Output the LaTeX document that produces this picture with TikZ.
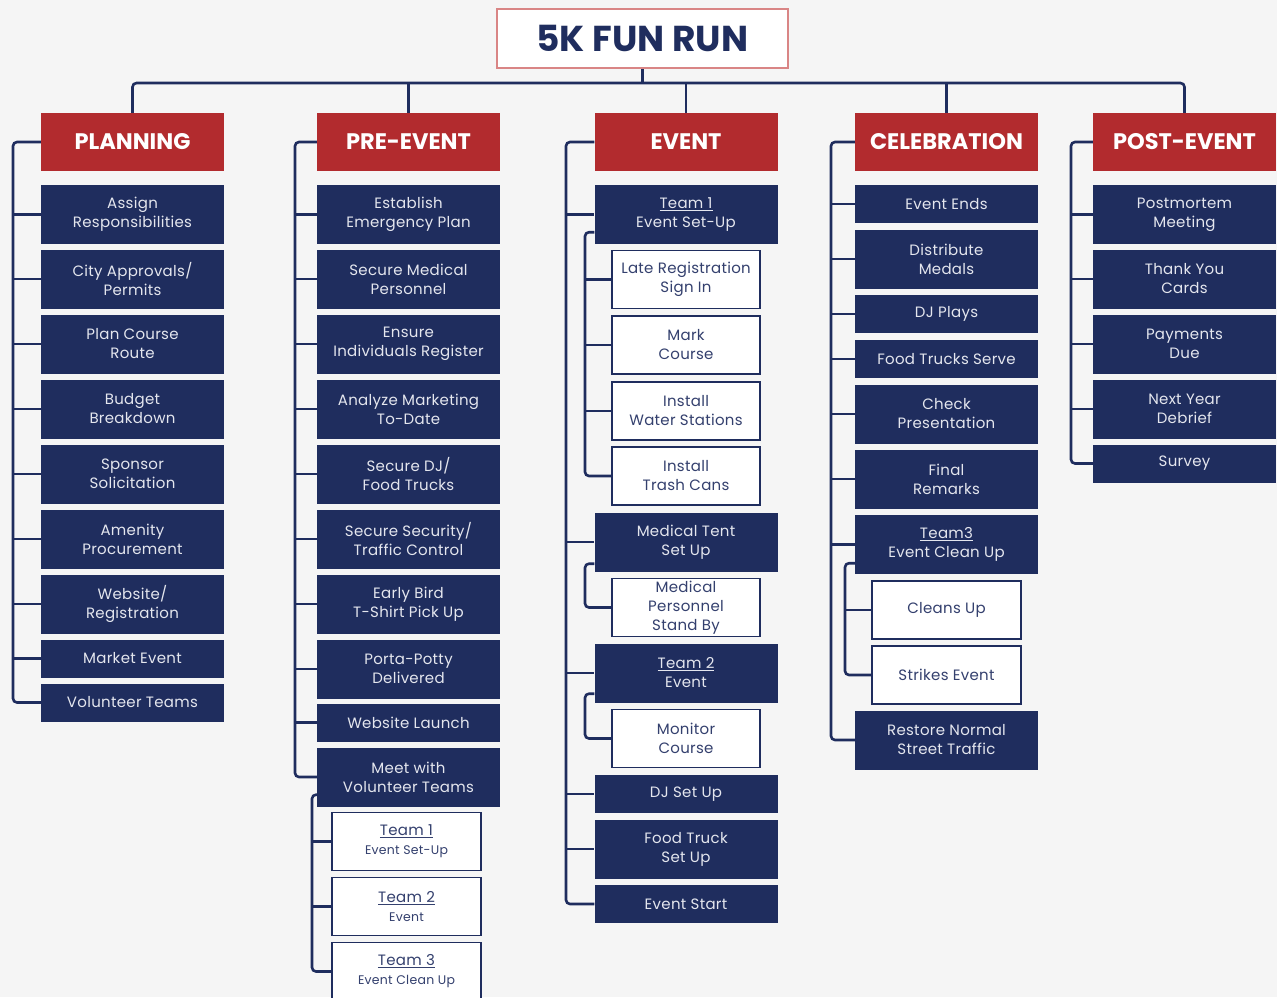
\documentclass[tikz,border=0pt]{standalone}
\usepackage{fontspec}
\setmainfont{Poppins}
\definecolor{navy}{HTML}{1F2D5E}
\definecolor{hred}{HTML}{B22B2E}
\definecolor{bg}{HTML}{F5F5F5}
\definecolor{tborder}{HTML}{D98585}
\definecolor{ltext}{HTML}{E4E6EE}
\definecolor{wtext}{HTML}{34406E}
\newcommand\bodyfont{\fontsize{15}{19}\selectfont\addfontfeatures{LetterSpace=2}}
\newcommand\subtxt{\fontsize{12.5}{15}\selectfont}
\begin{document}
\begin{tikzpicture}[x=1pt,y=-1pt,
  conn/.style={draw=navy,line width=2.6pt,rounded corners=4pt},
  hdr/.style={fill=hred,text=white,font=\bfseries\fontsize{22.5}{26}\selectfont,minimum width=183pt,minimum height=58pt,inner sep=0pt},
  dk/.style={fill=navy,text=ltext,font=\bodyfont,align=center,minimum width=183pt,inner sep=0pt},
  dktwo/.style={dk,minimum height=59pt},
  dkone/.style={dk,minimum height=38pt},
  wt/.style={fill=white,draw=navy,line width=1.4pt,text=wtext,font=\bodyfont,align=center,minimum width=148pt,minimum height=58pt,inner sep=0pt}
]
\fill[bg] (0,0) rectangle (1277,997);
\useasboundingbox (0,0) rectangle (1277,997);
\clip (0,0) rectangle (1277,997);

% title
\node[draw=tborder,line width=2pt,fill=white,minimum width=291pt,minimum height=59pt,inner sep=0pt,text=navy,font=\bfseries\fontsize{36}{42}\selectfont] (title) at (642.5,38.5) {5K FUN RUN};

% headers
\node[hdr] (hP)  at (132.5,142) {PLANNING};
\node[hdr] (hPE) at (408.5,142) {PRE-EVENT};
\node[hdr] (hE)  at (686,142)   {EVENT};
\node[hdr] (hC)  at (946.5,142) {CELEBRATION};
\node[hdr] (hPO) at (1184.5,142) {POST-EVENT};

% planning
\node[dktwo] (p1) at (132.5,214.5) {Assign\\Responsibilities};
\node[dktwo] (p2) at (132.5,279) {City Approvals/\\Permits};
\node[dktwo] (p3) at (132.5,344) {Plan Course\\Route};
\node[dktwo] (p4) at (132.5,409) {Budget\\Breakdown};
\node[dktwo] (p5) at (132.5,474) {Sponsor\\Solicitation};
\node[dktwo] (p6) at (132.5,539) {Amenity\\Procurement};
\node[dktwo] (p7) at (132.5,604) {Website/\\Registration};
\node[dkone] (p8) at (132.5,658.5) {Market Event};
\node[dkone] (p9) at (132.5,702.5) {Volunteer Teams};

% pre-event
\node[dktwo] (e1) at (408.5,214.5) {Establish\\Emergency Plan};
\node[dktwo] (e2) at (408.5,279) {Secure Medical\\Personnel};
\node[dktwo] (e3) at (408.5,344) {Ensure\\Individuals Register};
\node[dktwo] (e4) at (408.5,409) {Analyze Marketing\\To-Date};
\node[dktwo] (e5) at (408.5,474) {Secure DJ/\\Food Trucks};
\node[dktwo] (e6) at (408.5,539) {Secure Security/\\Traffic Control};
\node[dktwo] (e7) at (408.5,604) {Early Bird\\T-Shirt Pick Up};
\node[dktwo] (e8) at (408.5,669) {Porta-Potty\\Delivered};
\node[dkone] (e9) at (408.5,722.5) {Website Launch};
\node[dktwo] (e10) at (408.5,777) {Meet with\\Volunteer Teams};
\node[wt,minimum width=149pt] (t1) at (406.5,841.5) {\underline{Team 1}\\{\subtxt Event Set-Up}};
\node[wt,minimum width=149pt] (t2) at (406.5,906.5) {\underline{Team 2}\\{\subtxt Event}};
\node[wt,minimum width=149pt] (t3) at (406.5,971.5) {\underline{Team 3}\\{\subtxt Event Clean Up}};

% event
\node[dktwo] (v1) at (686,214.5) {\underline{Team 1}\\Event Set-Up};
\node[wt] (v1a) at (686,279.5) {Late Registration\\Sign In};
\node[wt] (v1b) at (686,345) {Mark\\Course};
\node[wt] (v1c) at (686,411) {Install\\Water Stations};
\node[wt] (v1d) at (686,476) {Install\\Trash Cans};
\node[dktwo] (v2) at (686,542) {Medical Tent\\Set Up};
\node[wt] (v2a) at (686,607.5) {Medical\\Personnel\\Stand By};
\node[dktwo] (v3) at (686,673) {\underline{Team 2}\\Event};
\node[wt] (v3a) at (686,738.5) {Monitor\\Course};
\node[dkone] (v4) at (686,794) {DJ Set Up};
\node[dktwo] (v5) at (686,849) {Food Truck\\Set Up};
\node[dkone] (v6) at (686,904) {Event Start};

% celebration
\node[dkone] (c1) at (946.5,204) {Event Ends};
\node[dktwo] (c2) at (946.5,259) {Distribute\\Medals};
\node[dkone] (c3) at (946.5,314) {DJ Plays};
\node[dkone] (c4) at (946.5,359) {Food Trucks Serve};
\node[dktwo] (c5) at (946.5,414) {Check\\Presentation};
\node[dktwo] (c6) at (946.5,479) {Final\\Remarks};
\node[dktwo] (c7) at (946.5,544.5) {\underline{Team3}\\Event Clean Up};
\node[wt,minimum width=149pt] (c7a) at (946.5,610) {Cleans Up};
\node[wt,minimum width=149pt] (c7b) at (946.5,675) {Strikes Event};
\node[dktwo] (c8) at (946.5,740) {Restore Normal\\Street Traffic};

% post-event
\node[dktwo] (o1) at (1184.5,214.5) {Postmortem\\Meeting};
\node[dktwo] (o2) at (1184.5,279) {Thank You\\Cards};
\node[dktwo] (o3) at (1184.5,344) {Payments\\Due};
\node[dktwo] (o4) at (1184.5,409) {Next Year\\Debrief};
\node[dkone] (o5) at (1184.5,463.5) {Survey};

% guide coordinates
\coordinate (bus) at (0,83);
\coordinate (lP) at (13,0);
\coordinate (lPE) at (295,0);
\coordinate (lE) at (566,0);
\coordinate (lC) at (831,0);
\coordinate (lPO) at (1071,0);
\coordinate (sPE) at (312,0);
\coordinate (sE) at (585,0);
\coordinate (sC) at (845,0);

% top bus
\draw[conn] (hP.north) -- (hP.north |- bus) -- (hPO.north |- bus) -- (hPO.north);
\draw[conn] (title.south) -- (title.south |- bus);
\foreach \h in {hPE,hE,hC} \draw[conn] (\h.north) -- (\h.north |- bus);

% column spines
\draw[conn] (hP.west) -- (lP |- hP.west) -- (lP |- p9.west) -- (p9.west);
\foreach \n in {p1,p2,p3,p4,p5,p6,p7,p8} \draw[conn] (lP |- \n.west) -- (\n.west);

\draw[conn] (hPE.west) -- (lPE |- hPE.west) -- (lPE |- e10.west) -- (e10.west);
\foreach \n in {e1,e2,e3,e4,e5,e6,e7,e8,e9} \draw[conn] (lPE |- \n.west) -- (\n.west);

\draw[conn] (hE.west) -- (lE |- hE.west) -- (lE |- v6.west) -- (v6.west);
\foreach \n in {v1,v2,v3,v4,v5} \draw[conn] (lE |- \n.west) -- (\n.west);

\draw[conn] (hC.west) -- (lC |- hC.west) -- (lC |- c8.west) -- (c8.west);
\foreach \n in {c1,c2,c3,c4,c5,c6,c7} \draw[conn] (lC |- \n.west) -- (\n.west);

\draw[conn] (hPO.west) -- (lPO |- hPO.west) -- (lPO |- o5.west) -- (o5.west);
\foreach \n in {o1,o2,o3,o4} \draw[conn] (lPO |- \n.west) -- (\n.west);

% sub branches
\coordinate (e10s) at ([yshift=12pt]e10.south west);
\draw[conn] (e10s) -- (sPE |- e10s) -- (sPE |- t3.west) -- (t3.west);
\foreach \n in {t1,t2} \draw[conn] (sPE |- \n.west) -- (\n.west);

\coordinate (v1s) at ([yshift=12pt]v1.south west);
\draw[conn] (v1s) -- (sE |- v1s) -- (sE |- v1d.west) -- (v1d.west);
\foreach \n in {v1a,v1b,v1c} \draw[conn] (sE |- \n.west) -- (\n.west);

\coordinate (v2s) at ([yshift=8pt]v2.south west);
\draw[conn] (v2s) -- (sE |- v2s) -- (sE |- v2a.west) -- (v2a.west);

\coordinate (v3s) at ([yshift=9pt]v3.south west);
\draw[conn] (v3s) -- (sE |- v3s) -- (sE |- v3a.west) -- (v3a.west);

\coordinate (c7s) at ([yshift=11pt]c7.south west);
\draw[conn] (c7s) -- (sC |- c7s) -- (sC |- c7b.west) -- (c7b.west);
\draw[conn] (sC |- c7a.west) -- (c7a.west);
\end{tikzpicture}
\end{document}
